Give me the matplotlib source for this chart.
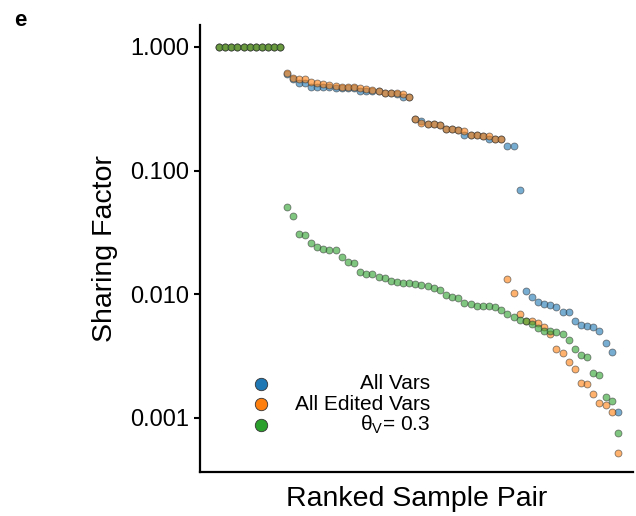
import matplotlib
matplotlib.use("Agg")
import matplotlib.pyplot as plt
import numpy as np

plt.rcParams['font.family'] = ['Liberation Sans', 'DejaVu Sans']
plt.rcParams['mathtext.fontset'] = 'custom'
plt.rcParams['mathtext.rm'] = 'Liberation Sans'
plt.rcParams['mathtext.it'] = 'Liberation Sans:italic'

# sharing factor per sample pair, each series sorted high -> low
all_vars = [1.0] * 11 + [
    0.61, 0.55, 0.508, 0.508, 0.478, 0.478, 0.475, 0.472, 0.470, 0.467,
    0.467, 0.462, 0.441, 0.441, 0.437, 0.437, 0.427, 0.424, 0.416, 0.396,
    0.392,
    0.262, 0.254, 0.238, 0.237, 0.235, 0.218, 0.217, 0.213, 0.194, 0.194,
    0.193, 0.192, 0.180, 0.180, 0.180, 0.159, 0.158, 0.0702,
    0.0106, 0.00957, 0.00862, 0.0084, 0.00824, 0.0079, 0.0072, 0.0072,
    0.00605, 0.00565, 0.00555, 0.00547, 0.00505, 0.00402, 0.00344, 0.00111,
]
all_edited = [1.0] * 11 + [
    0.613, 0.558, 0.553, 0.548, 0.518, 0.512, 0.499, 0.493, 0.484, 0.478,
    0.478, 0.472, 0.466, 0.458, 0.449, 0.441, 0.427, 0.427, 0.422, 0.414,
    0.396,
    0.262, 0.242, 0.238, 0.237, 0.235, 0.219, 0.217, 0.213, 0.209, 0.194,
    0.193, 0.192, 0.192, 0.180, 0.180, 0.0132, 0.0103, 0.00694,
    0.0061, 0.0061, 0.00583, 0.00547, 0.00475, 0.00359, 0.00337, 0.00285,
    0.00249, 0.00191, 0.00188, 0.00157, 0.00133, 0.00127, 0.00112, 0.000518,
]
theta_03 = [1.0] * 11 + [
    0.0511, 0.0432, 0.0308, 0.0304, 0.0262, 0.0240, 0.0234, 0.0227, 0.0227,
    0.0202, 0.0183, 0.0180, 0.0152, 0.0147, 0.0145, 0.0139, 0.0135, 0.0128,
    0.0126, 0.0124, 0.0123, 0.0122, 0.0118, 0.0117, 0.0113, 0.0108, 0.00988,
    0.00946, 0.00942, 0.00856, 0.0084, 0.00805, 0.00805, 0.0080, 0.00785,
    0.00743, 0.00698, 0.00656, 0.0062, 0.0061, 0.00576, 0.00534, 0.00508,
    0.00502, 0.00499, 0.00481, 0.0043, 0.00363, 0.00325, 0.0031, 0.00232,
    0.00223, 0.00147, 0.00137, 0.000752,
]
labels = ['All Vars', 'All Edited Vars', r'θ$_\mathregular{V}$= 0.3']
colors = ['tab:blue', 'tab:orange', 'tab:green']

fig = plt.figure(figsize=(6.36, 5.16), dpi=100)
ax = fig.add_axes([0.3145, 0.0853, 0.681, 0.8663])

for vals, c in zip([all_vars, all_edited, theta_03], colors):
    rank = np.arange(len(vals))
    ax.scatter(rank, vals, s=25, color=c, alpha=0.6, edgecolor='#333333',
               linewidth=0.6, zorder=3)

ax.set_yscale('log')
ax.set_ylim(3.66e-4, 1.506)
ax.set_xlim(-3.1, 67.5)
ax.set_yticks([1, 0.1, 0.01, 0.001])
ax.set_yticklabels(['1.000', '0.100', '0.010', '0.001'])
ax.minorticks_off()
ax.set_xticks([])
ax.tick_params(axis='y', labelsize=17, width=1.5, length=4)
for s in ['top', 'right']:
    ax.spines[s].set_visible(False)
for s in ['left', 'bottom']:
    ax.spines[s].set_linewidth(1.6)

ax.set_ylabel('Sharing Factor', fontsize=20.5, labelpad=9)
ax.set_xlabel('Ranked Sample Pair', fontsize=20.5, labelpad=10)

# legend: markers on the left, labels right-aligned
for i, (lab, c) in enumerate(zip(labels, colors)):
    y = 0.197 - i * 0.046
    ax.scatter([0.141], [y], s=80, color=c, edgecolor='#333333', linewidth=0.6,
               transform=ax.transAxes, clip_on=False, zorder=4)
    ax.text(0.531, y, lab, fontsize=15, ha='right', va='center',
            transform=ax.transAxes)

fig.text(0.022, 0.961, 'e', fontsize=16, fontweight='bold', va='center')

fig.savefig('out.png', dpi=100)
